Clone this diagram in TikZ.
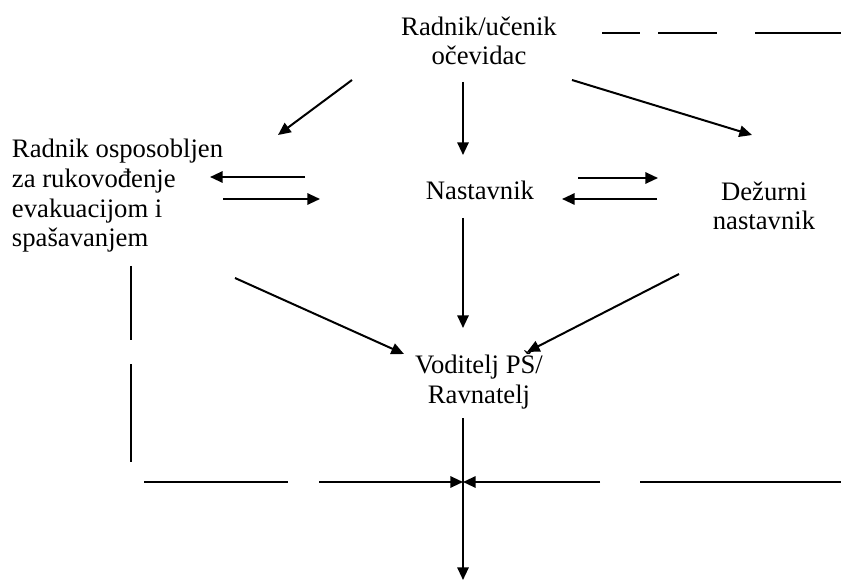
\documentclass[tikz,border=0pt]{standalone}
\usepackage{fontspec}
\setmainfont{Liberation Serif}
\usetikzlibrary{arrows.meta}

\tikzset{every picture/.style={line width=1.5pt}}
\tikzset{
  lbl/.style={font=\fontsize{20}{22.3}\selectfont, inner sep=0pt, anchor=base},
  arr/.style={-{Triangle[length=9.5pt,width=8.5pt]}},
  gapline/.style={line width=1.1pt}
}

\begin{document}
\begin{tikzpicture}[x=0.75pt,y=0.75pt,yscale=-1]
%set diagram size
\useasboundingbox (0,0) rectangle (841,584);

%Text (base = last line)
\node[lbl, align=center] (ocevidac) at (479,65) {Radnik/učenik\\očevidac};
\node[lbl, align=left, anchor=base west] (rukovoditelj) at (11,247) {Radnik osposobljen\\za rukovođenje\\evakuacijom i\\spašavanjem};
\node[lbl] (nastavnik) at (480,200) {Nastavnik};
\node[lbl, align=center] (dezurni) at (764,230) {Dežurni\\nastavnik};
\node[lbl, align=center] (voditelj) at (479,403) {Voditelj PŠ/\\Ravnatelj};

%Connector ends
\coordinate (oc l) at (352,80);  \coordinate (ru t) at (278,135);
\coordinate (oc m) at (463,82);  \coordinate (na t) at (463,155);
\coordinate (oc r) at (572,80);  \coordinate (de t) at (752,135);
\coordinate (ru a) at (210,177); \coordinate (na a) at (305,177);
\coordinate (ru b) at (223,199); \coordinate (na b) at (320,199);
\coordinate (na c) at (578,178); \coordinate (de c) at (658,178);
\coordinate (na d) at (562,199); \coordinate (de d) at (657,199);
\coordinate (na s) at (463,218); \coordinate (vo t) at (463,328);
\coordinate (ru s) at (235,278); \coordinate (vo l) at (404,354);
\coordinate (de s) at (679,274); \coordinate (vo r) at (527,352);
\coordinate (vo s) at (463,418); \coordinate (dolje) at (463,580);
\coordinate (hl) at (319,482);   \coordinate (hr) at (600,482);
\coordinate (sjeciste) at (463,482);

%Straight Lines
\draw[arr] (oc l) -- (ru t);
\draw[arr] (oc m) -- (na t);
\draw[arr] (oc r) -- (de t);
\draw[arr] (na a) -- (ru a);
\draw[arr] (ru b) -- (na b);
\draw[arr] (na c) -- (de c);
\draw[arr] (de d) -- (na d);
\draw[arr] (na s) -- (vo t);
\draw[arr] (ru s) -- (vo l);
\draw[arr] (de s) -- (vo r);
\draw[arr] (vo s) -- (dolje);
\draw[arr] (hl) -- (sjeciste);
\draw[arr] (hr) -- (sjeciste);

%Dashed parts
\draw[gapline] (602,33) -- (640,33);
\draw[gapline] (658,33) -- (717,33);
\draw[gapline] (755,33) -- (841,33);
\draw[gapline] (131,266) -- (131,340);
\draw[gapline] (131,364) -- (131,462);
\draw[gapline] (144,482) -- (288,482);
\draw[gapline] (640,482) -- (841,482);
\end{tikzpicture}
\end{document}
